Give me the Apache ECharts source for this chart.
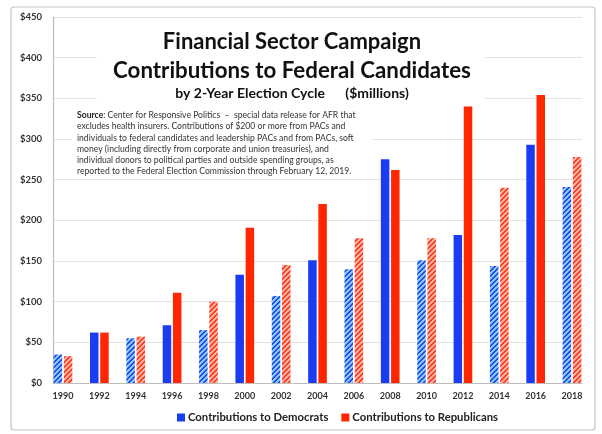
<!DOCTYPE html>
<html><head><meta charset="utf-8">
<script src="https://cdn.jsdelivr.net/npm/echarts@6/dist/echarts.min.js"></script>
<style>html,body{margin:0;padding:0;background:#fff}#c{width:602px;height:434px}</style>
</head><body><div id="c"></div>
<script>
const years = [1990,1992,1994,1996,1998,2000,2002,2004,2006,2008,2010,2012,2014,2016,2018];
const democrats = [35,62,55,71,65,133,107,151,140,275,151,182,144,293,241];
const republicans = [33,62,57,111,100,191,145,220,178,262,178,340,240,354,278];
const midterm = [true,false,true,false,true,false,true,false,true,false,true,false,true,false,true];
const titleLines = ['Financial Sector Campaign','Contributions to Federal Candidates'];
const subTitle = 'by 2-Year Election Cycle      ($millions)';
const sourceLines = [
 'Center for Responsive Politics  \u2013  special data release for AFR that',
 'excludes health insurers. Contributions of $200 or more from PACs and',
 'individuals to federal candidates and leadership PACs and from PACs, soft',
 'money (including directly from corporate and union treasuries), and',
 'individual donors to political parties and outside spending groups, as',
 'reported to the Federal Election Commission through February 12, 2019.'
];

function hatch(dark, light){
  const n=5, s=4, c=document.createElement('canvas');
  c.width=n*s; c.height=n*s;
  const ctx=c.getContext('2d');
  ctx.fillStyle=light; ctx.fillRect(0,0,c.width,c.height);
  ctx.fillStyle=dark;
  for(let x=0;x<c.width;x++)for(let y=0;y<c.height;y++){
    if(((x+y)%(n*s)) < n*s*0.5) ctx.fillRect(x,y,1,1);
  }
  const o=document.createElement('canvas'); o.width=n; o.height=n;
  const octx=o.getContext('2d');
  octx.imageSmoothingEnabled=true;
  octx.drawImage(c,0,0,n,n);
  return o;
}
const BLUE='#1a3cf2', RED='#ff2600';
const blueHatch={image:hatch('#1f4ae8','#8ccbff'),repeat:'repeat'};
const redHatch={image:hatch('#ff3a1c','#ffb5a6'),repeat:'repeat'};

const demData = years.map((y,i)=>({value:[y,democrats[i]], itemStyle:{color: midterm[i]?blueHatch:BLUE}}));
const repData = years.map((y,i)=>({value:[y,republicans[i]], itemStyle:{color: midterm[i]?redHatch:RED}}));

const chart = echarts.init(document.getElementById('c'));
const FF = 'Lato, "Open Sans", sans-serif';
const graphics = [
  {type:'rect', shape:{x:11,y:7,width:584,height:423,r:3}, style:{fill:'none',stroke:'#c4c4c4',lineWidth:1.2}, z:0},
  {type:'rect', shape:{x:97,y:26,width:388,height:77}, style:{fill:'#fff'}, z:10},
  {type:'rect', shape:{x:72,y:104,width:300,height:74}, style:{fill:'#fff'}, z:10},
  {type:'text', x:292, y:42, style:{text:titleLines[0], font:'bold 22px '+FF, fill:'#111', align:'center', verticalAlign:'middle'}, z:11},
  {type:'text', x:292, y:71, style:{text:titleLines[1], font:'bold 22.3px '+FF, fill:'#111', align:'center', verticalAlign:'middle'}, z:11},
  {type:'text', x:292, y:93, style:{text:subTitle, font:'bold 14px '+FF, fill:'#111', align:'center', verticalAlign:'middle'}, z:11},
  {type:'text', x:77, y:115.5, style:{rich:{b:{font:'bold 8.6px '+FF, fill:'#222'}, n:{font:'8.6px '+FF, fill:'#333'}}, text:'{b|Source}{n|: '+sourceLines[0]+'}', verticalAlign:'middle'}, z:11}
];
for(let i=1;i<sourceLines.length;i++){
  graphics.push({type:'text', x:77, y:115.5+i*11.2, style:{text:sourceLines[i], font:'8.6px '+FF, fill:'#333', verticalAlign:'middle'}, z:11});
}
chart.setOption({
  animation:false,
  backgroundColor:'#fff',
  grid:{left:53, right:20, top:17, bottom:51, containLabel:false},
  legend:{left:177, top:412, padding:0, itemWidth:8, itemHeight:8, itemGap:13, icon:'rect',
    textStyle:{fontFamily:FF, fontWeight:'bold', fontSize:11.3, color:'#222', padding:[0,0,0,-2]},
    data:['Contributions to Democrats','Contributions to Republicans']},
  xAxis:{type:'value', min:1989.45, max:2018.55,
    axisLine:{show:true, lineStyle:{color:'#bdbdbd', width:1.2}},
    axisTick:{show:false},
    splitLine:{show:false},
    axisLabel:{customValues:years, formatter:v=>String(v), fontFamily:FF, fontWeight:'bold', fontSize:9, color:'#333', margin:9}},
  yAxis:{type:'value', min:0, max:450, interval:50,
    axisLine:{show:true, lineStyle:{color:'#bdbdbd', width:1.2}},
    axisTick:{show:false},
    splitLine:{show:true, lineStyle:{color:'#e2e2e2', width:1.2}},
    axisLabel:{formatter:v=>'$'+v, fontFamily:FF, fontWeight:'bold', fontSize:9.5, color:'#333', margin:11}},
  series:[
    {name:'Contributions to Democrats', type:'bar', itemStyle:{color:BLUE}, barWidth:8.5, barGap:'20%', data:demData},
    {name:'Contributions to Republicans', type:'bar', itemStyle:{color:RED}, barWidth:8.5, barGap:'20%', data:repData}
  ],
  graphic:graphics
});
</script></body></html>
